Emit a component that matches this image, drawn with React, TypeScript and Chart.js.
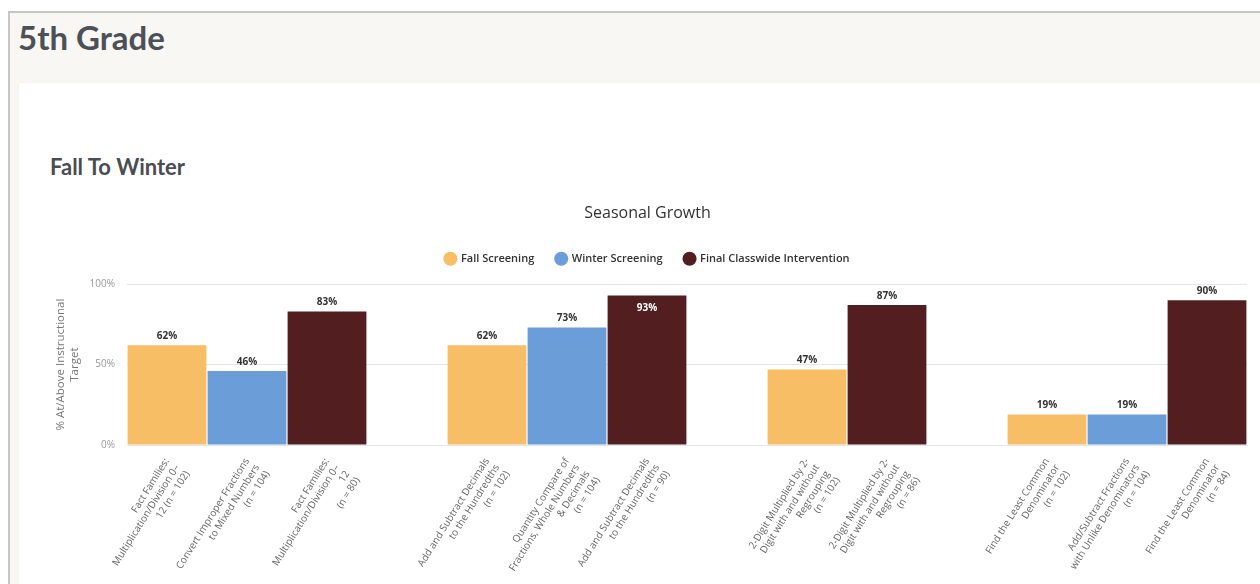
import React, { useEffect, useRef } from 'react';
import { Chart, registerables } from 'chart.js';

Chart.register(...registerables);

const categories: (string | string[])[] = [
  ['Fact Families:', 'Multiplication/Division 0–', '12 (n = 102)'],
  ['Convert Improper Fractions', 'to Mixed Numbers', '(n = 104)'],
  ['Fact Families:', 'Multiplication/Division 0–', '12', '(n = 80)'],
  '',
  ['Add and Subtract Decimals', 'to the Hundredths', '(n = 102)'],
  ['Quantity Compare of', 'Fractions, Whole Numbers', '& Decimals', '(n = 104)'],
  ['Add and Subtract Decimals', 'to the Hundredths', '(n = 90)'],
  '',
  ['2-Digit Multiplied by 2-', 'Digit with and without', 'Regrouping', '(n = 102)'],
  ['2-Digit Multiplied by 2-', 'Digit with and without', 'Regrouping', '(n = 86)'],
  '',
  ['Find the Least Common', 'Denominator', '(n = 102)'],
  ['Add/Subtract Fractions', 'with Unlike Denominators', '(n = 104)'],
  ['Find the Least Common', 'Denominator', '(n = 84)'],
];

const fallValues = [62, null, null, null, 62, null, null, null, 47, null, null, 19, null, null];
const winterValues = [null, 46, null, null, null, 73, null, null, null, null, null, null, 19, null];
const finalValues = [null, null, 83, null, null, null, 93, null, null, 87, null, null, null, 90];

const seriesNames = ['Fall Screening', 'Winter Screening', 'Final Classwide Intervention'];
const seriesColors = ['#F7BE65', '#6B9ED8', '#521E20'];

const yMin = 0;
const yMax = 100;
const yStep = 50;

const FONT = '"Open Sans", "DejaVu Sans", sans-serif';

const valueLabels = {
  id: 'valueLabels',
  afterDatasetsDraw(chart: any) {
    const ctx = chart.ctx;
    const area = chart.chartArea;
    ctx.save();
    ctx.font = `bold 10px ${FONT}`;
    ctx.textAlign = 'center';
    ctx.textBaseline = 'middle';
    chart.data.datasets.forEach((ds: any, di: number) => {
      const meta = chart.getDatasetMeta(di);
      meta.data.forEach((el: any, i: number) => {
        const v = ds.data[i];
        if (v == null) return;
        let y = el.y - 9;
        let color = '#333333';
        if (y - 6 < area.top) {
          y = el.y + 13;
          color = '#ffffff';
        }
        ctx.fillStyle = color;
        ctx.fillText(v + '%', el.x, y);
      });
    });
    ctx.restore();
  },
};

const legendGap = {
  id: 'legendGap',
  afterInit(chart: any) {
    const legend = chart.legend;
    if (!legend) return;
    const orig = legend.fit;
    legend.fit = function () {
      orig.call(legend);
      legend.height += 10;
    };
  },
};

function SeasonalChart() {
  const ref = useRef<HTMLCanvasElement | null>(null);
  useEffect(() => {
    if (!ref.current) return;
    const values = [fallValues, winterValues, finalValues];
    const chart = new Chart(ref.current, {
      type: 'bar',
      data: {
        labels: categories,
        datasets: seriesNames.map((name, i) => ({
          label: name,
          data: values[i],
          backgroundColor: seriesColors[i],
          borderWidth: 0,
          barPercentage: 1,
          categoryPercentage: 0.985,
        })),
      },
      options: {
        responsive: false,
        animation: false,
        layout: { padding: { left: 28, right: 28, top: 0, bottom: 0 } },
        plugins: {
          title: {
            display: true,
            text: 'Seasonal Growth',
            color: '#333333',
            font: { family: FONT, size: 16, weight: 'normal' },
            padding: { top: 9, bottom: 8 },
          },
          legend: {
            display: true,
            position: 'top',
            labels: {
              usePointStyle: true,
              pointStyle: 'circle',
              boxWidth: 10,
              boxHeight: 10,
              padding: 22,
              color: '#333333',
              font: { family: FONT, size: 11, weight: '600' },
            },
          },
          tooltip: { enabled: false },
        },
        scales: {
          x: {
            stacked: true,
            grid: { display: false },
            border: { display: true, color: '#dfe3ea', width: 1 },
            ticks: {
              autoSkip: false,
              minRotation: 58,
              maxRotation: 58,
              padding: 3,
              color: '#666666',
              font: { family: FONT, size: 10 },
            },
            afterFit(scale: any) {
              scale.height = 139;
            },
          },
          y: {
            stacked: false,
            min: yMin,
            max: yMax,
            grid: { color: '#e6e6e6', drawTicks: false },
            border: { display: false },
            ticks: {
              stepSize: yStep,
              padding: 12,
              color: '#999999',
              font: { family: FONT, size: 10 },
              callback: (v: any) => v + '%',
            },
            title: {
              display: true,
              text: ['% At/Above Instructional', 'Target'],
              color: '#777777',
              font: { family: FONT, size: 11.5 },
              padding: { top: 6, bottom: 0 },
            },
            afterFit(scale: any) {
              scale.width = 79;
            },
          },
        },
      },
      plugins: [valueLabels, legendGap],
    } as any);
    return () => chart.destroy();
  }, []);
  return (
    <canvas
      ref={ref}
      width={1255}
      height={389}
      style={{ position: 'absolute', left: 20, top: 195, width: 1255, height: 389 }}
    />
  );
}

export default function App() {
  return (
    <div
      style={{
        position: 'fixed',
        left: 0,
        top: 0,
        width: 1260,
        height: 584,
        overflow: 'hidden',
        background: '#ffffff',
      }}
    >
      <div
        style={{
          position: 'absolute',
          left: 8,
          top: 11,
          width: 1300,
          height: 640,
          background: '#f8f7f3',
          borderLeft: '2px solid #c6c6c6',
          borderTop: '2px solid #c6c6c6',
        }}
      />
      <div
        style={{
          position: 'absolute',
          left: 18,
          top: 16,
          fontFamily: 'Lato, sans-serif',
          fontWeight: 700,
          fontSize: 33,
          lineHeight: '42px',
          color: '#4d5157',
          whiteSpace: 'nowrap',
        }}
      >
        5th Grade
      </div>
      <div
        style={{
          position: 'absolute',
          left: 19,
          top: 83,
          width: 1300,
          height: 600,
          background: '#ffffff',
          boxShadow: '0 0 3px rgba(0,0,0,0.04)',
        }}
      />
      <div
        style={{
          position: 'absolute',
          left: 50,
          top: 153,
          fontFamily: 'Lato, sans-serif',
          fontWeight: 700,
          fontSize: 22,
          lineHeight: '28px',
          color: '#4a4d52',
          whiteSpace: 'nowrap',
        }}
      >
        Fall To Winter
      </div>
      <SeasonalChart />
    </div>
  );
}
